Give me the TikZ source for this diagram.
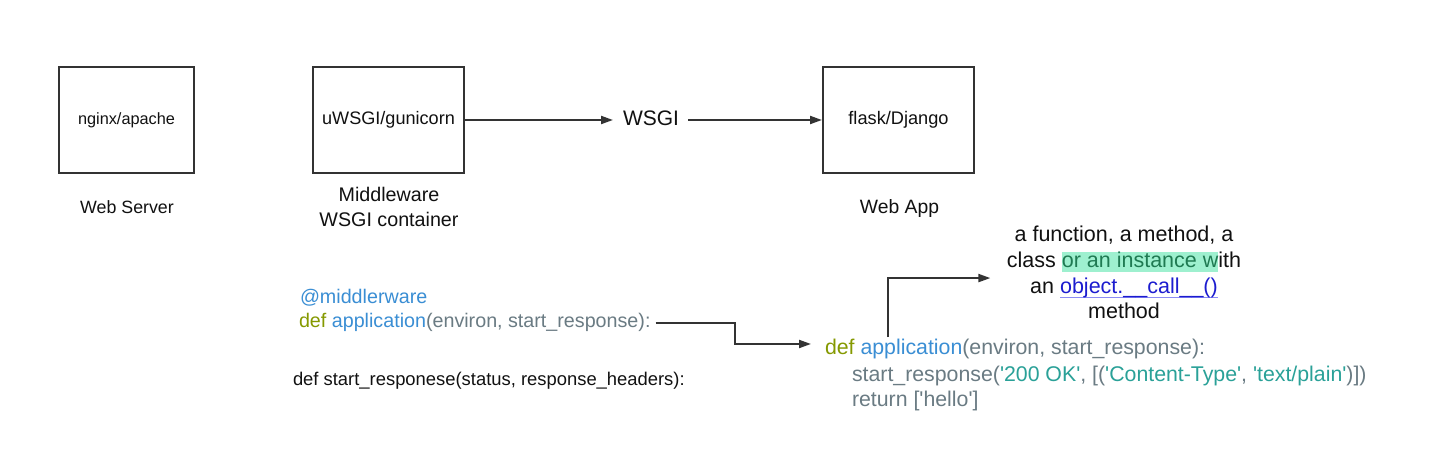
\documentclass[tikz,border=0pt]{standalone}
\usepackage{fontspec}
\setmainfont{Liberation Sans}
\usetikzlibrary{arrows.meta,calc}
\definecolor{kw}{HTML}{859900}
\definecolor{fn}{HTML}{3A8ED4}
\definecolor{tx}{HTML}{6A7B83}
\definecolor{st}{HTML}{2AA198}
\definecolor{edge}{HTML}{333333}
\definecolor{ink}{HTML}{111111}
\definecolor{hlfill}{HTML}{9EF0CF}
\definecolor{hltext}{HTML}{1F7A52}
\definecolor{lnk}{HTML}{1C1CCF}
\definecolor{lnkul}{HTML}{8C8CF5}
\newcommand\fsz[1]{\fontsize{#1bp}{#1bp}\selectfont}
\newcommand\sq{\textquotesingle}
\newlength\lnkwd
\newcommand\hlt[1]{{\setlength\fboxsep{0pt}\colorbox{hlfill}{\rule[-5bp]{0pt}{20bp}\textcolor{hltext}{#1}}}}
\newcommand\lnkline[1]{\settowidth{\lnkwd}{#1}\rlap{\textcolor{lnkul}{\rule[-4.5bp]{\lnkwd}{1bp}}}\textcolor{lnk}{#1}}
\begin{document}
\begin{tikzpicture}[x=1bp,y=-1bp,
  box/.style={draw=edge,line width=2bp,minimum height=106bp,inner sep=0pt,text=ink},
  lbl/.style={inner sep=0pt,outer sep=0pt,text=ink},
  arr/.style={draw=edge,line width=2bp,-{Triangle[length=12bp,width=8bp]}}]
\fill[white] (0,0) rectangle (1434,464);
\useasboundingbox (0,0) rectangle (1434,464);
% top row
\node[box,minimum width=135bp,font=\fsz{16.3}] (web) at (126.5,120) {nginx/apache};
\node[box,minimum width=151bp,font=\fsz{18.1}] (mid) at (388.5,120) {uWSGI/gunicorn};
\node[box,minimum width=151bp,font=\fsz{18.2}] (app) at (898.5,120) {flask/Django};
\node[lbl,font=\fsz{21}] (wsgi) at (651,118) {WSGI};
\node[lbl,font=\fsz{17.8},anchor=base] (webl) at (127,214) {Web Server};
\node[lbl,font=\fontsize{19.7bp}{25bp}\selectfont,align=center,anchor=south] (midl) at (389,226.5) {Middleware\\WSGI container};
\node[lbl,font=\fsz{19.3},anchor=base] (appl) at (899.5,213.5) {Web App};
\draw[arr,shorten >=10bp] (mid.east) -- (mid.east -| wsgi.west);
\draw[arr,shorten <=9bp] (app.west -| wsgi.east) -- (app.west);
% left code
\node[lbl,font=\fsz{19.7},anchor=base west,text=fn] (deco) at (300,304) {@middlerware};
\node[lbl,font=\fsz{19.7},anchor=base west] (lapp) at (299,328) {\textcolor{kw}{def} \textcolor{fn}{application}\textcolor{tx}{(environ, start\_response):}};
\node[lbl,font=\fsz{18.4},anchor=base west] (sresp) at (293,385.5) {def start\_responese(status, response\_headers):};
% right code
\node[lbl,font=\fsz{21.3},anchor=base west] (rc1) at (825,355) {\textcolor{kw}{def} \textcolor{fn}{application}\textcolor{tx}{(environ, start\_response):}};
\node[lbl,font=\fsz{21.3},anchor=base west] (rc2) at (852,381) {\textcolor{tx}{start\_response(}\textcolor{st}{\sq200 OK\sq}\textcolor{tx}{, [(}\textcolor{st}{\sq Content-Type\sq}\textcolor{tx}{, }\textcolor{st}{\sq text/plain\sq}\textcolor{tx}{)])}};
\node[lbl,font=\fsz{21.3},anchor=base west,text=tx] (rc3) at (852,406.5) {return [\sq hello\sq]};
% annotation
\node[lbl,font=\fontsize{21.5bp}{25.7bp}\selectfont,align=center,anchor=south] (ann) at (1124,319) {a function, a method, a\\class \hlt{or an instance w}ith\\an \lnkline{object.\_\_call\_\_()}\\method};
% connectors
\coordinate (lbend) at (735,0);
\coordinate (rin) at ($(rc1.west)+(0,-5.5)$);
\draw[arr,shorten <=5bp,shorten >=14bp] (lapp.east) -| (lbend |- rin) -- (rin);
\coordinate (csrc) at (888,337);
\draw[arr,shorten >=16.5bp] (csrc) |- ($(ann.west)+(0,5.5)$);
\end{tikzpicture}
\end{document}
